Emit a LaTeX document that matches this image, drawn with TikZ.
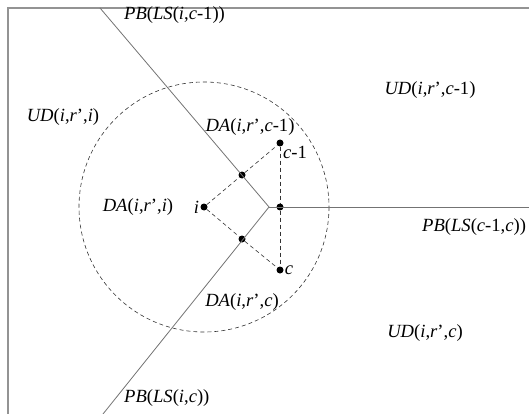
\documentclass[tikz,border=0pt]{standalone}
\usepackage{fontspec}
\setmainfont{Liberation Serif}
\usetikzlibrary{positioning,calc}
\newcommand{\vi}[1]{\textit{#1}}

\begin{document}
\begin{tikzpicture}[x=1pt,y=-1pt,font=\fontsize{18.6}{21}\selectfont]
  \tikzset{
    border/.style={draw=gray!85, line width=1.4pt},
    bisect/.style={draw=gray!90!black, line width=0.8pt},
    aux/.style={draw=black!80, line width=0.6pt, dash pattern=on 4pt off 3pt},
    dot/.style={circle, fill=black, inner sep=0pt, minimum size=7pt},
    lbl/.style={inner sep=1pt}
  }
  \useasboundingbox (0,0) rectangle (529,414);

  % frame
  \coordinate (fTL) at (8,8);
  \coordinate (fTR) at (529,8);
  \coordinate (fBL) at (8,414);
  \draw[border] (fTR) -- (fTL) -- (fBL);

  % sites and midpoints
  \node[dot] (si) at (204,207) {};
  \node[dot] (sc1) at (280,143) {};
  \node[dot] (sc) at (280,270) {};
  \node[dot] (m1) at (242,175) {};
  \node[dot] (m2) at (242,239) {};
  \node[dot] (m3) at (280,207) {};
  \coordinate (v) at (269,207);

  % dashed circle round i
  \draw[aux] (si) circle[radius=125];

  % perpendicular bisectors
  \coordinate (eTop) at (100,8);
  \coordinate (eBot) at (103,414);
  \coordinate (eRight) at (529,207);
  \draw[bisect] (eTop) -- (v) -- (eBot);
  \draw[bisect] (v) -- (eRight);

  % triangle i, c-1, c
  \draw[aux] (si) -- (m1) -- (sc1);
  \draw[aux] (si) -- (m2) -- (sc);
  \draw[aux] (sc1) -- (m3) -- (sc);

  % labels
  \node[lbl,anchor=west] (tPBa) at (123,15) {\vi{PB}(\vi{LS}(\vi{i},\vi{c}-1))};
  \node[lbl] (tUDa) at (430,90) {\vi{UD}(\vi{i},\vi{r}’,\vi{c}-1)};
  \node[lbl] (tUDi) at (63,117) {\vi{UD}(\vi{i},\vi{r}’,\vi{i})};
  \node[lbl] (tDAa) at (250,127) {\vi{DA}(\vi{i},\vi{r}’,\vi{c}-1)};
  \node[lbl,anchor=west] (tc1) at (282,152) {\vi{c}-1};
  \node[lbl] (tDAi) at (138,207) {\vi{DA}(\vi{i},\vi{r}’,\vi{i})};
  \node[lbl,anchor=east] (ti) at (si.west) {\vi{i}};
  \node[lbl,anchor=west] (tPBb) at (421,227) {\vi{PB}(\vi{LS}(\vi{c}-1,\vi{c}))};
  \node[lbl,anchor=west] (tc) at (sc.east) {\vi{c}};
  \node[lbl] (tDAc) at (242,302) {\vi{DA}(\vi{i},\vi{r}’,\vi{c})};
  \node[lbl] (tUDc) at (425,333) {\vi{UD}(\vi{i},\vi{r}’,\vi{c})};
  \node[lbl,anchor=west] (tPBc) at (123,398) {\vi{PB}(\vi{LS}(\vi{i},\vi{c}))};
\end{tikzpicture}
\end{document}
